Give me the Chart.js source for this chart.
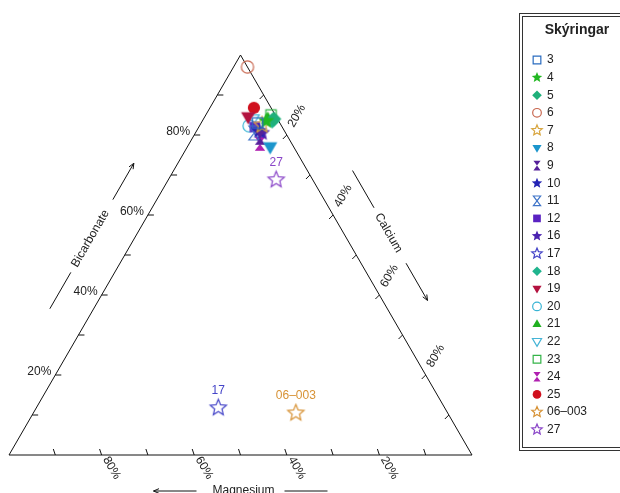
<!DOCTYPE html>
<html>
<head>
<meta charset="utf-8">
<script src="https://cdn.jsdelivr.net/npm/chart.js@4"></script>
<style>
  body { margin: 0; background: #fff; }
  #wrap { width: 620px; height: 493px; position: relative; }
</style>
</head>
<body>
<div id="wrap"><canvas id="chart"></canvas></div>
<script>
// samples (legend order)
const labels = ["3", "4", "5", "6", "7", "8", "9", "10", "11", "12", "16", "17", "18", "19", "20", "21", "22", "23", "24", "25", "06–003", "27"];
// percentages
const bicarbonate = [83, 83.5, 84, 97, 82.5, 77, 79.3, 81, 80.5, 82, 80.5, 11.8, 83.5, 84.5, 82.3, 84, 83.8, 85, 77.8, 86.8, 10.5, 68.8];
const calcium = [12.2, 13.8, 15.2, 3, 13.4, 17.9, 14.6, 13.5, 12.7, 12.1, 14.4, 39.3, 15.1, 9.4, 10.7, 13.9, 10.6, 14.1, 15.3, 9.5, 56.7, 23.3];
const magnesium = [4.8, 2.7, 0.8, 0, 4.1, 5.1, 6.1, 5.5, 6.8, 5.9, 5.1, 48.9, 1.4, 6.1, 7, 2.1, 5.6, 0.9, 6.9, 3.7, 32.8, 7.9];
const shapes = ["square", "star", "diamond", "circle", "star", "triDown", "hourglass", "star", "hourglass", "square", "star", "star", "diamond", "triDown", "circle", "triUp", "triDown", "square", "hourglass", "circle", "star", "star"];
const filled = [false, true, true, false, false, true, true, true, false, true, true, false, true, true, false, true, false, false, true, true, false, false];
const colors = ["#2a6cc0", "#22b822", "#1fb07a", "#c8674f", "#d8a640", "#1b95cc", "#55209a", "#2323b4", "#3f74c8", "#5a22c2", "#4a22b0", "#4545c8", "#20b48e", "#b3123f", "#38b4d4", "#20b020", "#45b4d6", "#34b448", "#b020b0", "#d0101e", "#d79235", "#8a46c8"];
const annotated = ["17", "06–003", "27"];
const tickLabels = ["20%", "40%", "60%", "80%"];

const H = Math.sqrt(3) / 2;
const plotSize = { star: 8.5, circle: 6.8, square: 6.5, diamond: 7.5, triUp: 7.5, triDown: 7.5, hourglass: 7 };
const FONT = "'Liberation Sans', Arial, sans-serif";

const drawSymbol = (ctx, shape, x, y, r, color, fill) => {
  ctx.save();
  ctx.beginPath();
  if (shape == "square") {
    ctx.rect(x - r * 0.8, y - r * 0.8, r * 1.6, r * 1.6);
  } else if (shape == "circle") {
    ctx.arc(x, y, r * 0.9, 0, 2 * Math.PI);
  } else if (shape == "diamond") {
    ctx.moveTo(x, y - r); ctx.lineTo(x + r, y); ctx.lineTo(x, y + r); ctx.lineTo(x - r, y); ctx.closePath();
  } else if (shape == "triUp") {
    ctx.moveTo(x, y - r); ctx.lineTo(x + r * 0.95, y + r * 0.65); ctx.lineTo(x - r * 0.95, y + r * 0.65); ctx.closePath();
  } else if (shape == "triDown") {
    ctx.moveTo(x, y + r); ctx.lineTo(x + r * 0.95, y - r * 0.65); ctx.lineTo(x - r * 0.95, y - r * 0.65); ctx.closePath();
  } else if (shape == "hourglass") {
    ctx.moveTo(x - r * 0.75, y - r); ctx.lineTo(x + r * 0.75, y - r); ctx.lineTo(x, y);
    ctx.lineTo(x + r * 0.75, y + r); ctx.lineTo(x - r * 0.75, y + r); ctx.lineTo(x, y); ctx.closePath();
  } else if (shape == "star") {
    for (let i = 0; i < 10; i++) {
      const a = -Math.PI / 2 + i * Math.PI / 5;
      const rr = i % 2 ? r * 0.45 : r;
      const px = x + rr * Math.cos(a), py = y + rr * Math.sin(a);
      i ? ctx.lineTo(px, py) : ctx.moveTo(px, py);
    }
    ctx.closePath();
  }
  if (fill) {
    ctx.fillStyle = color;
    ctx.fill();
  } else {
    ctx.strokeStyle = color;
    ctx.lineWidth = 1.2;
    ctx.stroke();
  }
  ctx.restore();
};

const makeMarker = (shape, color, fill, r) => {
  const c = document.createElement("canvas");
  const s = Math.ceil(2 * r + 4);
  c.width = s; c.height = s;
  drawSymbol(c.getContext("2d"), shape, s / 2, s / 2, r, color, fill);
  return c;
};

const datasets = labels.map((name, i) => ({
  label: name,
  data: [{ x: calcium[i] / 100 + bicarbonate[i] / 200, y: bicarbonate[i] / 100 * H }],
  pointStyle: makeMarker(shapes[i], colors[i], filled[i], plotSize[shapes[i]]),
  pointRadius: 6,
  clip: false,
}));

const arrowLine = (ctx, x1, y1, x2, y2, head) => {
  ctx.beginPath(); ctx.moveTo(x1, y1); ctx.lineTo(x2, y2); ctx.stroke();
  if (head) {
    const a = Math.atan2(y2 - y1, x2 - x1);
    ctx.beginPath();
    ctx.moveTo(x2 - 6 * Math.cos(a - 0.4), y2 - 6 * Math.sin(a - 0.4));
    ctx.lineTo(x2, y2);
    ctx.lineTo(x2 - 6 * Math.cos(a + 0.4), y2 - 6 * Math.sin(a + 0.4));
    ctx.stroke();
  }
};

// axis title with a line before and an arrow after, along an edge
const edgeTitle = (ctx, mid, u, n, off, seg, text, rot) => {
  const p = (t, d) => [mid.x + u[0] * t + n[0] * d, mid.y + u[1] * t + n[1] * d];
  const a1 = p(-seg[1], off), a2 = p(-seg[0], off), b1 = p(seg[0], off), b2 = p(seg[1], off);
  arrowLine(ctx, a1[0], a1[1], a2[0], a2[1], false);
  arrowLine(ctx, b1[0], b1[1], b2[0], b2[1], true);
  const c = p(-3, off);
  ctx.save();
  ctx.translate(c[0], c[1]);
  ctx.rotate(rot);
  ctx.textAlign = "center";
  ctx.textBaseline = "middle";
  ctx.fillText(text, 0, 0);
  ctx.restore();
};

const ternary = {
  id: "ternary",
  beforeDatasetsDraw(chart) {
    const { ctx, scales } = chart;
    const pos = (bic, ca) => ({
      x: scales.x.getPixelForValue(ca / 100 + bic / 200),
      y: scales.y.getPixelForValue(bic / 100 * H),
    });
    ctx.save();
    ctx.strokeStyle = "#111";
    ctx.fillStyle = "#222";
    ctx.lineWidth = 1;
    const top = pos(100, 0), left = pos(0, 0), right = pos(0, 100);
    ctx.beginPath();
    ctx.moveTo(left.x, left.y); ctx.lineTo(right.x, right.y); ctx.lineTo(top.x, top.y); ctx.closePath();
    ctx.stroke();

    ctx.font = "12px " + FONT;
    for (let v = 10; v < 100; v += 10) {
      const label = tickLabels.indexOf(v + "%") >= 0 ? v + "%" : null;
      // Bicarbonate on the left edge
      let p = pos(v, 0);
      ctx.beginPath(); ctx.moveTo(p.x, p.y); ctx.lineTo(p.x + 6, p.y); ctx.stroke();
      if (label) {
        ctx.textAlign = "right"; ctx.textBaseline = "middle";
        ctx.fillText(label, p.x - 4, p.y - 3);
      }
      // Magnesium on the bottom edge
      p = pos(0, 100 - v);
      ctx.beginPath(); ctx.moveTo(p.x, p.y); ctx.lineTo(p.x - 2, p.y - 6); ctx.stroke();
      if (label) {
        ctx.save(); ctx.translate(p.x + 10, p.y + 13); ctx.rotate(Math.PI / 3);
        ctx.textAlign = "center"; ctx.fillText(label, 0, 0); ctx.restore();
      }
      // Calcium on the right edge
      p = pos(100 - v, v);
      ctx.beginPath(); ctx.moveTo(p.x, p.y); ctx.lineTo(p.x - 4, p.y + 4); ctx.stroke();
      if (label) {
        ctx.save(); ctx.translate(p.x + 10, p.y - 19); ctx.rotate(-Math.PI / 3);
        ctx.textAlign = "center"; ctx.fillText(label, 0, 0); ctx.restore();
      }
    }

    edgeTitle(ctx, pos(50, 0), [0.5, -H], [-H, -0.5], 38, [42, 84], "Bicarbonate", -Math.PI / 3);
    edgeTitle(ctx, pos(50, 50), [0.5, H], [H, -0.5], 39, [32, 75], "Calcium", Math.PI / 3);
    edgeTitle(ctx, pos(0, 50), [-1, 0], [0, 1], 36, [44, 87], "Magnesium", 0);
    ctx.restore();
  },
  afterDraw(chart) {
    const { ctx } = chart;
    ctx.save();
    // sample names next to the outlying points
    ctx.font = "12px " + FONT;
    ctx.textAlign = "center";
    ctx.textBaseline = "middle";
    annotated.forEach((name) => {
      const i = labels.indexOf(name);
      const el = chart.getDatasetMeta(i).data[0];
      ctx.fillStyle = colors[i];
      ctx.fillText(name, el.x, el.y - 17);
    });

    // legend box
    ctx.strokeStyle = "#333";
    ctx.lineWidth = 1;
    ctx.strokeRect(519.5, 13.5, 110, 437);
    ctx.strokeRect(522.5, 16.5, 110, 431);
    ctx.fillStyle = "#222";
    ctx.font = "bold 14px " + FONT;
    ctx.fillText("Skýringar", 577, 30);
    ctx.font = "12px " + FONT;
    ctx.textAlign = "left";
    labels.forEach((name, i) => {
      const y = 60 + i * 17.6;
      drawSymbol(ctx, shapes[i], 537, y, shapes[i] == "star" ? 5.5 : 4.8, colors[i], filled[i]);
      ctx.fillStyle = "#222";
      ctx.fillText(name, 547, y);
    });
    ctx.restore();
  },
};

new Chart(document.getElementById("chart"), {
  type: "scatter",
  data: { datasets },
  options: {
    responsive: true,
    maintainAspectRatio: false,
    animation: false,
    layout: { padding: { left: 9, right: 148, top: 55, bottom: 38 } },
    scales: {
      x: { display: false, min: 0, max: 1 },
      y: { display: false, min: 0, max: H },
    },
    plugins: {
      legend: { display: false },
      tooltip: { enabled: false },
    },
  },
  plugins: [ternary],
});
</script>
</body>
</html>
